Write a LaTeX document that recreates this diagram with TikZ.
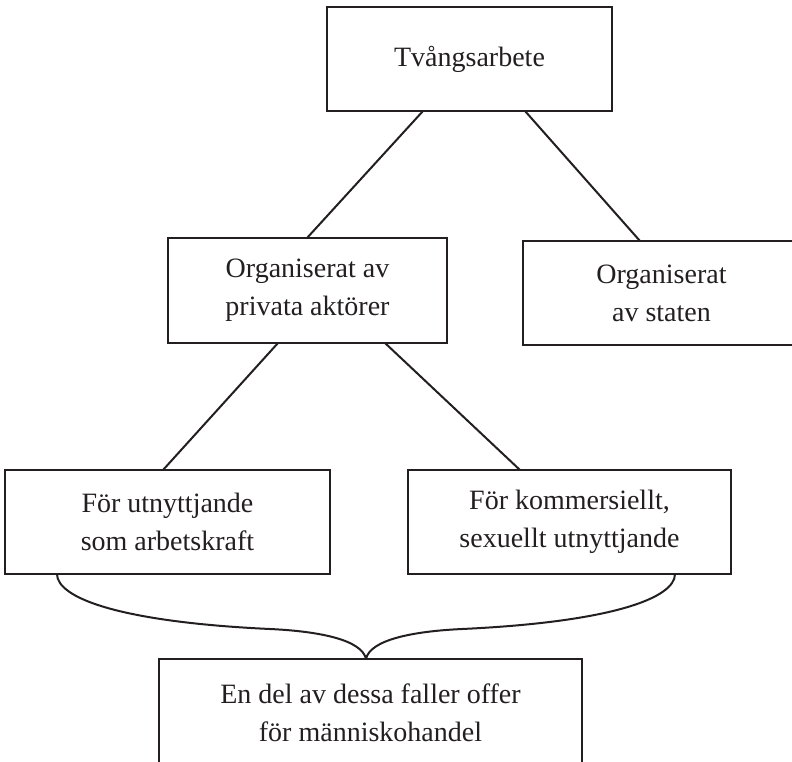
\documentclass[tikz,border=0pt]{standalone}
\usepackage{fontspec}
\setmainfont{Liberation Serif}
\definecolor{ink}{RGB}{35,31,32}
\begin{document}
\begin{tikzpicture}[x=1pt,y=-1pt,
  box/.style={draw=ink, line width=2.2pt, inner sep=0pt, outer sep=0pt, align=center,
    text=ink, font=\fontsize{28}{38}\selectfont},
  link/.style={draw=ink, line width=2pt}]
\clip (0,0) rectangle (792,761);
\node[box, minimum width=285pt, minimum height=104pt] (top) at (469.5,59) {Tvångsarbete};
\node[box, minimum width=279pt, minimum height=105pt] (midL) at (307.5,290.5) {Organiserat av\\privata aktörer};
\node[box, minimum width=277pt, minimum height=104pt] (midR) at (661.5,293) {Organiserat\\av staten};
\node[box, minimum width=325pt, minimum height=104pt] (botL) at (167.5,522) {För utnyttjande\\som arbetskraft};
\node[box, minimum width=323pt, minimum height=104pt] (botR) at (569.5,522) {För kommersiellt,\\sexuellt utnyttjande};
\node[box, minimum width=423pt, minimum height=108pt] (bottom) at (370.5,713) {En del av dessa faller offer\\för människohandel};
\draw[link] ([xshift=-46.5pt]top.south) -- ([xshift=-0.5pt]midL.north);
\draw[link] ([xshift=55.5pt]top.south) -- ([xshift=-21.5pt]midR.north);
\draw[link] ([xshift=-29.5pt]midL.south) -- ([xshift=-4.5pt]botL.north);
\draw[link] ([xshift=77.5pt]midL.south) -- ([xshift=-49.5pt]botR.north);
\coordinate (bl) at (270,629);
\coordinate (br) at (462,629);
\draw[link] ([xshift=-110.5pt]botL.south) .. controls +(0,24) and +(-150,-7) .. (bl)
  .. controls +(50,2.3) and +(-4,-19) .. ([xshift=-4.5pt]bottom.north);
\draw[link] ([xshift=105.5pt]botR.south) .. controls +(0,24) and +(150,-7) .. (br)
  .. controls +(-50,2.3) and +(4,-19) .. ([xshift=-4.5pt]bottom.north);
\end{tikzpicture}
\end{document}
